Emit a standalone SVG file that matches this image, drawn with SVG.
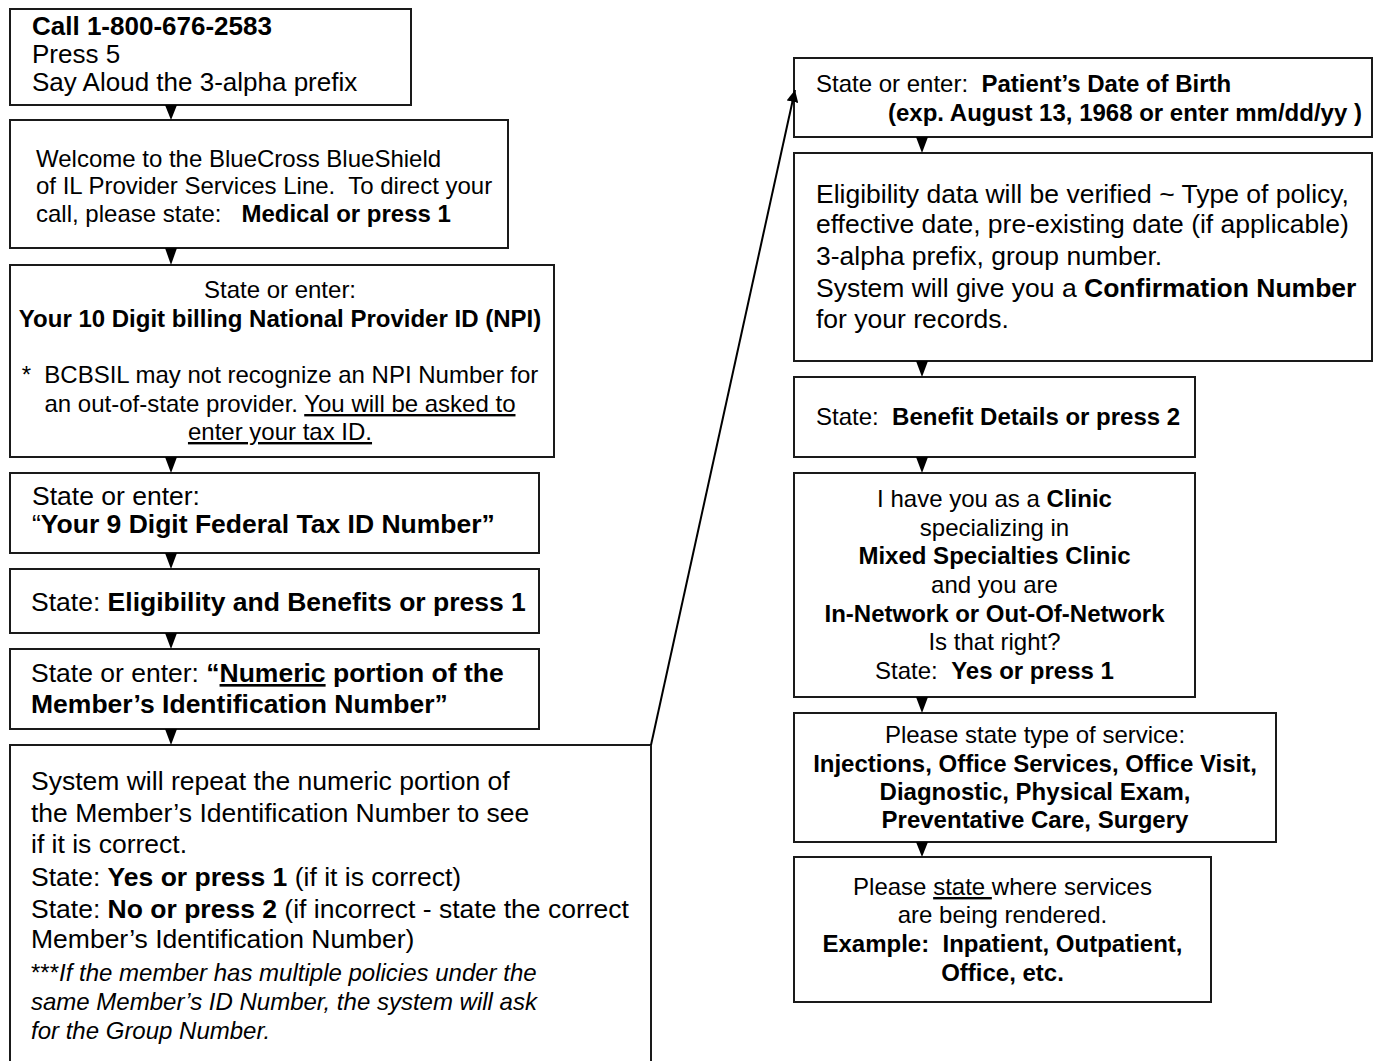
<svg xmlns="http://www.w3.org/2000/svg" width="1373" height="1061" viewBox="0 0 1373 1061">
<style>
rect.box{fill:#fff;stroke:#1a1a1a;stroke-width:2}
text{font-family:"Liberation Sans",Arial,sans-serif;fill:#000}
.b{font-weight:bold}
.u{text-decoration:underline}
.i{font-style:italic}
.f24{font-size:24px}
.f26{font-size:26px}
.f265{font-size:26.5px}
.mid{text-anchor:middle}
.tri{fill:#000}
.conn{stroke:#000;stroke-width:2;fill:none}
</style>
<defs>
<marker id="ah" viewBox="0 0 10 10" refX="10" refY="5" markerWidth="6" markerHeight="6" orient="auto" markerUnits="strokeWidth">
<path d="M0,0 L10,5 L0,10 z" fill="#000"/>
</marker>
</defs>
<rect width="1373" height="1061" fill="#fff"/>

<g id="n1">
<rect class="box" x="10" y="9" width="401" height="96"/>
<text class="f26" x="32" y="35"><tspan class="b">Call 1-800-676-2583</tspan></text>
<text class="f26" x="32" y="63">Press 5</text>
<text class="f26" x="32" y="91">Say Aloud the 3-alpha prefix</text>
</g>

<g id="n2">
<rect class="box" x="10" y="120" width="498" height="128"/>
<text class="f24" x="36" y="167">Welcome to the BlueCross BlueShield</text>
<text class="f24" x="36" y="194" xml:space="preserve">of IL Provider Services Line.  To direct your</text>
<text class="f24" x="36" y="222" xml:space="preserve">call, please state:   <tspan class="b">Medical or press 1</tspan></text>
</g>

<g id="n3">
<rect class="box" x="10" y="265" width="544" height="192"/>
<text class="f24 mid" x="280" y="298">State or enter:</text>
<text class="f24 mid b" x="280" y="327">Your 10 Digit billing National Provider ID (NPI)</text>
<text class="f24 mid" x="280" y="383" xml:space="preserve">*  BCBSIL may not recognize an NPI Number for</text>
<text class="f24 mid" x="280" y="412">an out-of-state provider. <tspan class="u">You will be asked to</tspan></text>
<text class="f24 mid u" x="280" y="440">enter your tax ID.</text>
</g>

<g id="n4">
<rect class="box" x="10" y="473" width="529" height="80"/>
<text class="f265" x="32" y="505">State or enter:</text>
<text class="f265" x="32" y="533">“<tspan class="b">Your 9 Digit Federal Tax ID Number”</tspan></text>
</g>

<g id="n5">
<rect class="box" x="10" y="569" width="529" height="64"/>
<text class="f265" x="31" y="611">State: <tspan class="b">Eligibility and Benefits or press 1</tspan></text>
</g>

<g id="n6">
<rect class="box" x="10" y="649" width="529" height="80"/>
<text class="f265" x="31" y="682">State or enter: <tspan class="b">“<tspan class="u">Numeric</tspan> portion of the</tspan></text>
<text class="f265 b" x="31" y="713">Member’s Identification Number”</text>
</g>

<g id="n7">
<rect class="box" x="10" y="745" width="641" height="330"/>
<text class="f265" x="31" y="790">System will repeat the numeric portion of</text>
<text class="f265" x="31" y="822">the Member’s Identification Number to see</text>
<text class="f265" x="31" y="853">if it is correct.</text>
<text class="f265" x="31" y="886">State: <tspan class="b">Yes or press 1</tspan> (if it is correct)</text>
<text class="f265" x="31" y="918">State: <tspan class="b">No or press 2</tspan> (if incorrect - state the correct</text>
<text class="f265" x="31" y="948">Member’s Identification Number)</text>
<text class="f24" x="31" y="981">***<tspan class="i">If the member has multiple policies under the</tspan></text>
<text class="f24 i" x="31" y="1010">same Member’s ID Number, the system will ask</text>
<text class="f24 i" x="31" y="1039">for the Group Number.</text>
</g>

<g id="r1">
<rect class="box" x="794" y="58" width="578" height="79"/>
<text class="f24" x="816" y="92" xml:space="preserve">State or enter:  <tspan class="b">Patient’s Date of Birth</tspan></text>
<text class="f24 b" x="888" y="121">(exp. August 13, 1968 or enter mm/dd/yy )</text>
</g>

<g id="r2">
<rect class="box" x="794" y="153" width="578" height="208"/>
<text class="f265" x="816" y="203">Eligibility data will be verified ~ Type of policy,</text>
<text class="f265" x="816" y="233">effective date, pre-existing date (if applicable)</text>
<text class="f265" x="816" y="265">3-alpha prefix, group number.</text>
<text class="f265" x="816" y="297">System will give you a <tspan class="b">Confirmation Number</tspan></text>
<text class="f265" x="816" y="328">for your records.</text>
</g>

<g id="r3">
<rect class="box" x="794" y="377" width="401" height="80"/>
<text class="f24" x="816" y="425" xml:space="preserve">State:  <tspan class="b">Benefit Details or press 2</tspan></text>
</g>

<g id="r4">
<rect class="box" x="794" y="473" width="401" height="224"/>
<text class="f24 mid" x="994.5" y="507">I have you as a <tspan class="b">Clinic</tspan></text>
<text class="f24 mid" x="994.5" y="535.5">specializing in</text>
<text class="f24 mid b" x="994.5" y="564">Mixed Specialties Clinic</text>
<text class="f24 mid" x="994.5" y="592.5">and you are</text>
<text class="f24 mid b" x="994.5" y="621.5">In-Network or Out-Of-Network</text>
<text class="f24 mid" x="994.5" y="650">Is that right?</text>
<text class="f24 mid" x="994.5" y="679" xml:space="preserve">State:  <tspan class="b">Yes or press 1</tspan></text>
</g>

<g id="r5">
<rect class="box" x="794" y="713" width="482" height="129"/>
<text class="f24 mid" x="1035" y="743">Please state type of service:</text>
<text class="f24 mid b" x="1035" y="772">Injections, Office Services, Office Visit,</text>
<text class="f24 mid b" x="1035" y="800">Diagnostic, Physical Exam,</text>
<text class="f24 mid b" x="1035" y="828">Preventative Care, Surgery</text>
</g>

<g id="r6">
<rect class="box" x="794" y="857" width="417" height="145"/>
<text class="f24 mid" x="1002.5" y="895">Please <tspan class="u">state </tspan>where services</text>
<text class="f24 mid" x="1002.5" y="923">are being rendered.</text>
<text class="f24 mid b" x="1002.5" y="952" xml:space="preserve">Example:  Inpatient, Outpatient,</text>
<text class="f24 mid b" x="1002.5" y="981">Office, etc.</text>
</g>

<g id="connectors">
<path class="tri" d="M165,105 L177,105 L171,120 Z"/>
<path class="tri" d="M165,248 L177,248 L171,265 Z"/>
<path class="tri" d="M165,457 L177,457 L171,473 Z"/>
<path class="tri" d="M165,553 L177,553 L171,569 Z"/>
<path class="tri" d="M165,633 L177,633 L171,649 Z"/>
<path class="tri" d="M165,729 L177,729 L171,745 Z"/>
<path class="tri" d="M916,137 L928,137 L922,153 Z"/>
<path class="tri" d="M916,361 L928,361 L922,377 Z"/>
<path class="tri" d="M916,457 L928,457 L922,473 Z"/>
<path class="tri" d="M916,697 L928,697 L922,713 Z"/>
<path class="tri" d="M916,842 L928,842 L922,857 Z"/>
<line class="conn" x1="651" y1="745" x2="795" y2="90" marker-end="url(#ah)"/>
</g>
</svg>
